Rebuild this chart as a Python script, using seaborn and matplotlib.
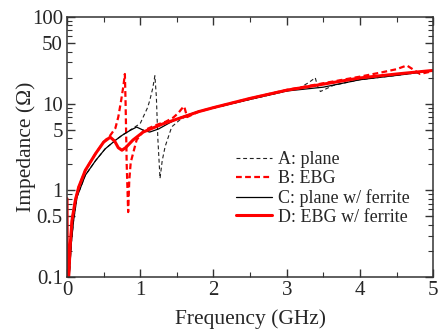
import numpy as np
import pandas as pd
import seaborn as sns
import matplotlib
matplotlib.use("Agg")
import matplotlib.pyplot as plt
from matplotlib.ticker import FixedLocator, FixedFormatter, NullFormatter

# values (frequency in GHz, impedance in ohm)
# A: plane
freq_a = [0.03, 0.06, 0.09, 0.137, 0.25, 0.39, 0.52, 0.66, 0.75, 0.82, 0.9, 1.0, 1.04, 1.1, 1.13,
          1.17, 1.2, 1.22, 1.24, 1.27, 1.3, 1.34, 1.43, 1.55, 1.7, 2.0, 2.5, 3.0, 3.18, 3.3, 3.39,
          3.42, 3.46, 3.55, 3.64, 4.0, 4.5, 5.0]
imp_a = [0.1, 0.25, 0.45, 0.84, 1.49, 2.2, 3.0, 3.77, 4.3, 4.7, 5.2, 5.9, 7.0, 9.0, 10.9,
         15.0, 21.0, 12.0, 4.0, 1.37, 2.2, 3.2, 5.4, 6.6, 7.6, 8.9, 11.2, 14.0, 15.3, 17.5, 19.9,
         16.0, 13.8, 15.0, 16.3, 18.9, 21.2, 24.0]

# B: EBG
freq_b = [0.005, 0.023, 0.045, 0.068, 0.114, 0.16, 0.25, 0.39, 0.5, 0.59, 0.66, 0.7, 0.74, 0.77,
          0.79, 0.8, 0.815, 0.835, 0.85, 0.87, 0.95, 1.05, 1.2, 1.35, 1.45, 1.52, 1.57, 1.6, 1.64,
          1.7, 1.8, 2.0, 2.5, 3.0, 3.5, 4.0, 4.3, 4.5, 4.64, 4.72, 4.82, 5.0]
imp_b = [0.09, 0.1, 0.24, 0.45, 0.77, 1.09, 1.7, 2.65, 3.6, 4.3, 5.2, 7.0, 11.0, 16.0,
         22.0, 10.0, 2.0, 0.56, 1.3, 2.1, 3.8, 4.9, 5.6, 6.2, 6.9, 7.8, 8.8, 9.3, 7.0,
         7.4, 8.1, 9.0, 11.5, 14.4, 17.2, 20.5, 23.0, 25.0, 27.6, 25.0, 22.0, 23.8]

# C: plane w/ ferrite
freq_c = [0.0, 0.03, 0.06, 0.09, 0.137, 0.25, 0.39, 0.52, 0.66, 0.75, 0.86, 0.95, 1.05, 1.13,
          1.25, 1.4, 1.54, 1.8, 2.0, 2.5, 3.0, 3.5, 4.0, 4.5, 5.0]
imp_c = [0.05, 0.1, 0.25, 0.45, 0.84, 1.49, 2.2, 3.0, 3.77, 4.3, 4.9, 5.37, 4.9, 4.7,
         5.1, 6.0, 6.9, 8.2, 8.9, 11.2, 14.0, 15.5, 18.9, 21.2, 24.0]

# D: EBG w/ ferrite
freq_d = [0.0, 0.005, 0.023, 0.045, 0.068, 0.114, 0.16, 0.25, 0.39, 0.5, 0.59, 0.65, 0.7, 0.75,
          0.8, 0.9, 1.04, 1.3, 1.54, 1.8, 2.0, 2.5, 3.0, 3.5, 4.0, 4.5, 5.0]
imp_d = [0.8, 0.09, 0.1, 0.24, 0.45, 0.77, 1.09, 1.7, 2.65, 3.6, 4.1, 3.7, 3.1, 2.9,
         3.1, 3.8, 4.7, 5.8, 6.8, 8.1, 9.0, 11.5, 14.3, 16.8, 19.8, 22.0, 24.2]

labels = ["A: plane", "B: EBG", "C: plane w/ ferrite", "D: EBG w/ ferrite"]
y_ticks = [0.1, 0.5, 1, 5, 10, 50, 100]
y_ticklabels = ["0.1", "0.5", "1", "5", "10", "50", "100"]

sns.set_style("ticks")
plt.rcParams["font.family"] = ["Liberation Serif", "DejaVu Serif"]

fig = plt.figure(figsize=(4.38, 3.34), dpi=100)
ax = fig.add_axes([0.153, 0.171, 0.836, 0.778])

sns.lineplot(x=freq_a, y=imp_a, ax=ax, sort=False, estimator=None, color="#222222",
             lw=0.8, linestyle=(0, (3.5, 2.5)), label=labels[0])
sns.lineplot(x=freq_b, y=imp_b, ax=ax, sort=False, estimator=None, color="#ff0000",
             lw=1.6, linestyle=(0, (2.6, 1.5)), label=labels[1])
sns.lineplot(x=freq_c, y=imp_c, ax=ax, sort=False, estimator=None, color="black",
             lw=0.9, label=labels[2])
sns.lineplot(x=freq_d, y=imp_d, ax=ax, sort=False, estimator=None, color="#ff0000",
             lw=2.2, label=labels[3])

ax.set_yscale("log")
ax.set_xlim(0, 5)
ax.set_ylim(0.1, 100)

ax.xaxis.set_major_locator(FixedLocator([0, 1, 2, 3, 4, 5]))
ax.xaxis.set_minor_locator(FixedLocator([0.5, 1.5, 2.5, 3.5, 4.5]))
ax.yaxis.set_major_locator(FixedLocator(y_ticks))
ax.yaxis.set_major_formatter(FixedFormatter(y_ticklabels))
minor_y = [m * 10.0 ** e for e in (-1, 0, 1) for m in (2, 3, 4, 6, 7, 8, 9)]
ax.yaxis.set_minor_locator(FixedLocator(minor_y))
ax.yaxis.set_minor_formatter(NullFormatter())

ax.tick_params(which="both", direction="in", top=True, right=True, labelsize=15, pad=3,
               color="#333333")
ax.tick_params(which="major", length=5.5, width=1.0)
ax.tick_params(which="minor", length=3.5, width=0.8)
for s in ax.spines.values():
    s.set_linewidth(1.1)
    s.set_color("#333333")

ax.set_xlabel("Frequency (GHz)", fontsize=15.5)
ax.set_ylabel("Impedance (Ω)", fontsize=15.5)
ax.xaxis.set_label_coords(0.5, -0.125)
ax.yaxis.set_label_coords(-0.085, 0.5)

ax.legend(loc="center left", bbox_to_anchor=(0.462, 0.34), frameon=False, fontsize=13,
          handlelength=2.0, handletextpad=0.3, labelspacing=0.1, borderpad=0, borderaxespad=0)

fig.savefig("out.png", dpi=100)
